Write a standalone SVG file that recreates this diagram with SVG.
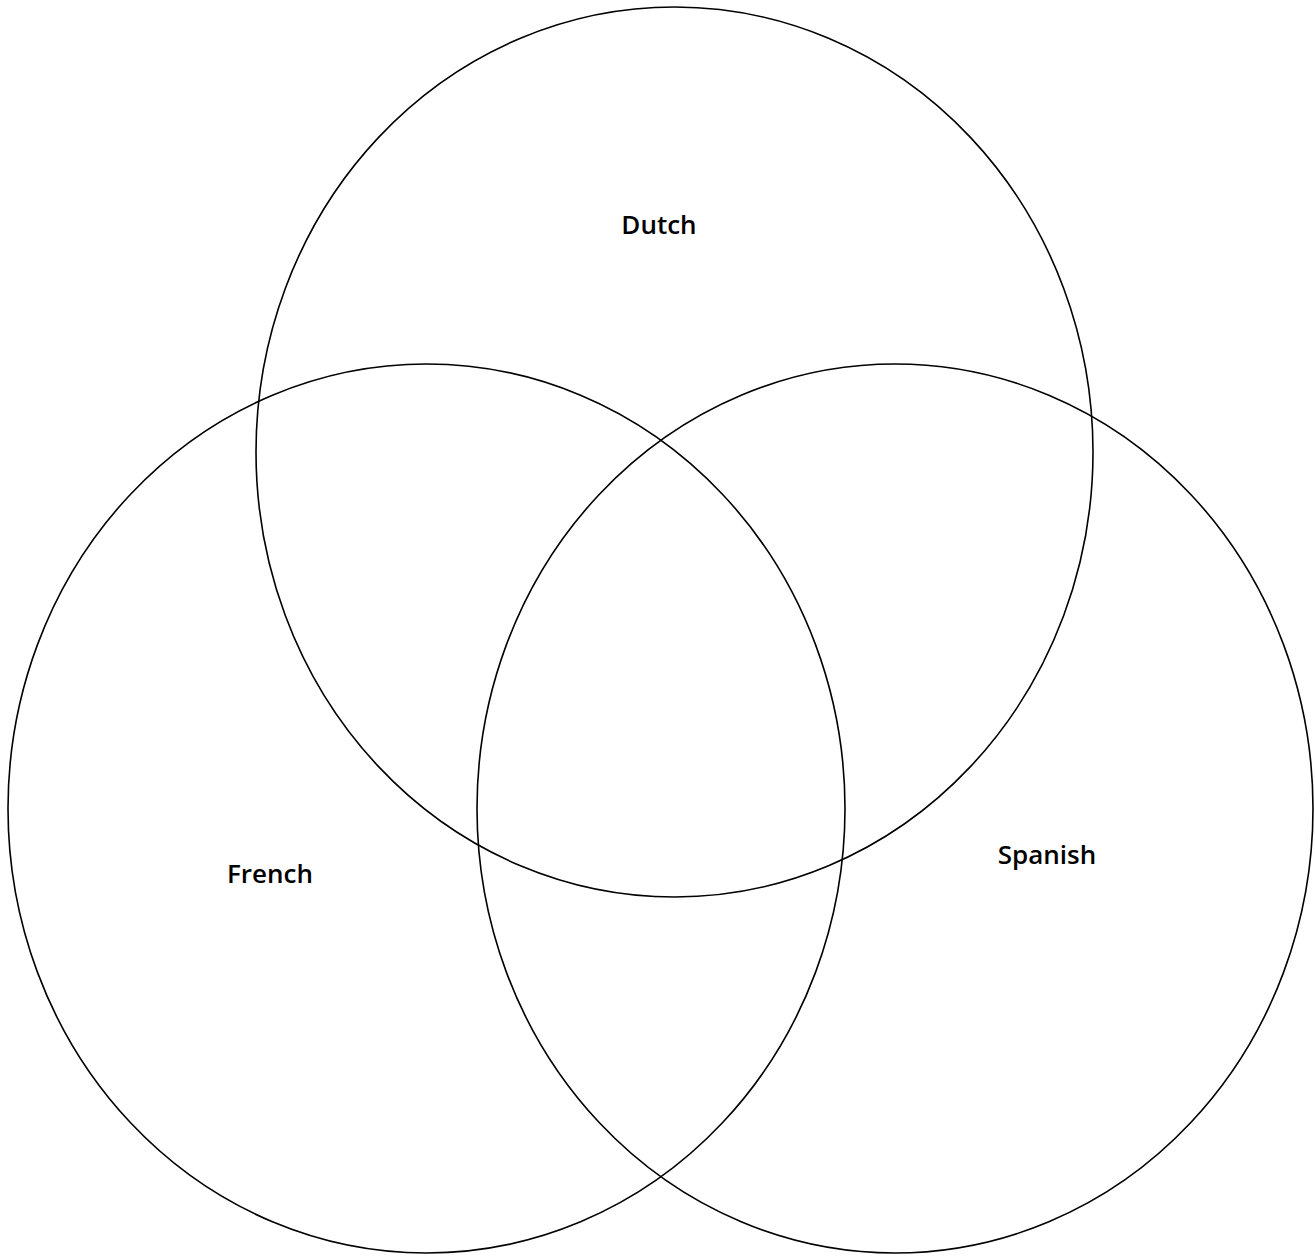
<svg xmlns="http://www.w3.org/2000/svg" width="1315" height="1256" viewBox="0 0 1315 1256">
<style>
.set{fill:none;stroke:#000;stroke-width:1.6}
.lbl{font-family:"Open Sans","Liberation Sans",sans-serif;font-size:26px;font-weight:600;fill:#000;text-anchor:middle}
</style>
<rect width="1315" height="1256" fill="#fff"/>
<g id="dutch"><ellipse class="set" cx="674.5" cy="452" rx="418.5" ry="445"/><text class="lbl" x="659" y="234">Dutch</text></g>
<g id="french"><ellipse class="set" cx="426.5" cy="808.5" rx="418.5" ry="444.5"/><text class="lbl" x="270" y="883">French</text></g>
<g id="spanish"><ellipse class="set" cx="895" cy="808.5" rx="418" ry="444.5"/><text class="lbl" x="1047" y="864">Spanish</text></g>
<g id="connectors"/>
</svg>
